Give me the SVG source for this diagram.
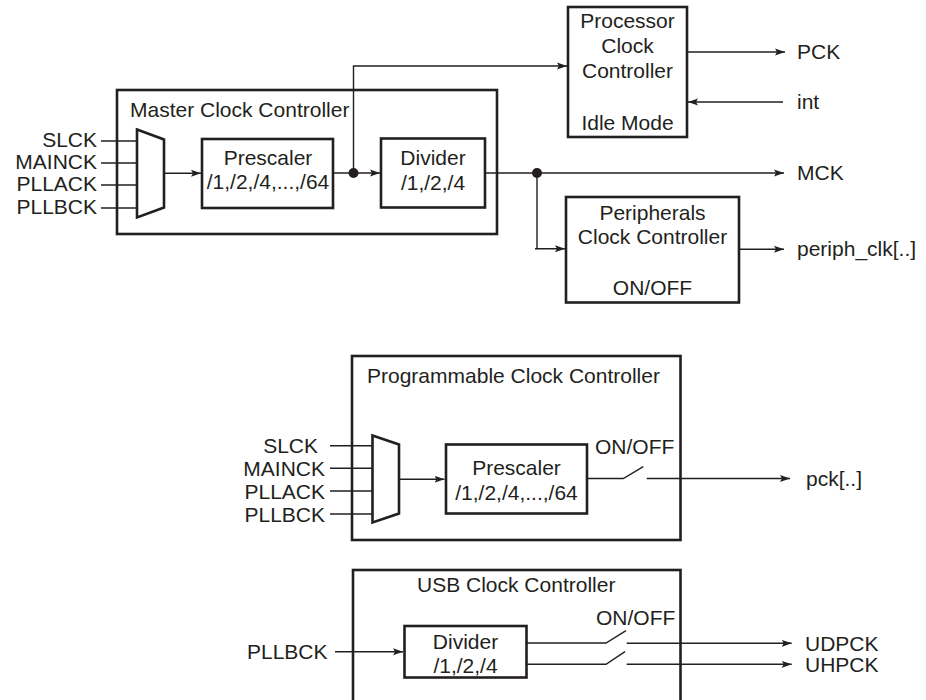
<svg xmlns="http://www.w3.org/2000/svg" width="926" height="700" viewBox="0 0 926 700">
<defs>
<marker id="arr" markerUnits="userSpaceOnUse" markerWidth="11" markerHeight="8" refX="10" refY="4" orient="auto">
<path d="M0,0.5 L10,4 L0,7.5 L2,4 Z" fill="#231f20"/>
</marker>
<style>
text{font-family:"Liberation Sans",Arial,sans-serif;font-size:21px;fill:#231f20}
.m{text-anchor:middle}
.e{text-anchor:end}
.box{fill:none;stroke:#231f20;stroke-width:2.6}
.w{fill:none;stroke:#231f20;stroke-width:1.4}
.a{marker-end:url(#arr)}
</style>
</defs>
<rect width="926" height="700" fill="#fff"/>

<g id="master">
<rect class="box" x="117" y="90" width="380" height="144"/>
<text x="130" y="117">Master Clock Controller</text>
</g>
<g id="mux1">
<path class="box" d="M137,129.5 L164,139.5 L164,207.5 L137,217.5 Z"/>
<text class="e" x="97" y="147">SLCK</text>
<text class="e" x="97" y="169">MAINCK</text>
<text class="e" x="97" y="191">PLLACK</text>
<text class="e" x="97" y="214">PLLBCK</text>
</g>
<g id="prescaler1">
<rect class="box" x="202" y="139" width="131" height="69"/>
<text class="m" x="268" y="165">Prescaler</text>
<text class="m" x="268" y="189">/1,/2,/4,...,/64</text>
</g>
<g id="divider1">
<rect class="box" x="381" y="138.5" width="104" height="69"/>
<text class="m" x="433" y="165">Divider</text>
<text class="m" x="433" y="190">/1,/2,/4</text>
</g>
<g id="processor">
<rect class="box" x="568" y="7" width="119" height="130"/>
<text class="m" x="627.5" y="28">Processor</text>
<text class="m" x="627.5" y="53">Clock</text>
<text class="m" x="627.5" y="78">Controller</text>
<text class="m" x="627.5" y="130">Idle Mode</text>
<text x="797" y="59">PCK</text>
<text x="797" y="109">int</text>
</g>
<g id="peripherals">
<rect class="box" x="566" y="197" width="173" height="105.5"/>
<text class="m" x="652.5" y="220">Peripherals</text>
<text class="m" x="652.5" y="243.5">Clock Controller</text>
<text class="m" x="652.5" y="295">ON/OFF</text>
<text x="797" y="180">MCK</text>
<text x="797" y="256">periph_clk[..]</text>
</g>

<g id="programmable">
<rect class="box" x="352" y="356" width="328.5" height="184"/>
<text x="367" y="383">Programmable Clock Controller</text>
<text x="595" y="454">ON/OFF</text>
<text x="806" y="486">pck[..]</text>
</g>
<g id="mux2">
<path class="box" d="M372.5,435.5 L399,444.5 L399,513.5 L372.5,522.5 Z"/>
<text class="e" x="318" y="453">SLCK</text>
<text class="e" x="325" y="476">MAINCK</text>
<text class="e" x="325" y="499">PLLACK</text>
<text class="e" x="325" y="522">PLLBCK</text>
</g>
<g id="prescaler2">
<rect class="box" x="446" y="444.5" width="141" height="69"/>
<text class="m" x="516.5" y="475">Prescaler</text>
<text class="m" x="516.5" y="500">/1,/2,/4,...,/64</text>
</g>

<g id="usb">
<rect class="box" x="353" y="570" width="327.5" height="150"/>
<text x="417" y="592">USB Clock Controller</text>
<text x="596" y="625">ON/OFF</text>
<text x="247" y="659">PLLBCK</text>
<text x="805" y="650.5">UDPCK</text>
<text x="805" y="671.5">UHPCK</text>
</g>
<g id="divider2">
<rect class="box" x="404.5" y="626" width="122" height="51.5"/>
<text class="m" x="465.5" y="648.5">Divider</text>
<text class="m" x="465.5" y="672.5">/1,/2,/4</text>
</g>

<g id="connectors">
<line class="w" x1="101" y1="141" x2="137" y2="141"/>
<line class="w" x1="101" y1="163" x2="137" y2="163"/>
<line class="w" x1="101" y1="185" x2="137" y2="185"/>
<line class="w" x1="101" y1="208" x2="137" y2="208"/>
<line class="w a" x1="164" y1="173.3" x2="201" y2="173.3"/>
<line class="w a" x1="333" y1="173" x2="380" y2="173"/>
<circle cx="353.5" cy="173" r="5" fill="#231f20"/>
<polyline class="w a" points="353.5,173 353.5,66 567,66"/>
<line class="w a" x1="688" y1="52" x2="785" y2="52"/>
<line class="w a" x1="783" y1="102" x2="688" y2="102"/>
<line class="w a" x1="485" y1="173" x2="784" y2="173"/>
<circle cx="537" cy="173" r="5" fill="#231f20"/>
<polyline class="w a" points="537,173 537,248.7 565,248.7"/>
<line class="w" x1="535" y1="248.7" x2="537" y2="248.7"/>
<line class="w a" x1="740" y1="249.3" x2="784" y2="249.3"/>

<line class="w" x1="330" y1="445.7" x2="372.5" y2="445.7"/>
<line class="w" x1="330" y1="468.3" x2="372.5" y2="468.3"/>
<line class="w" x1="330" y1="491" x2="372.5" y2="491"/>
<line class="w" x1="330" y1="514" x2="372.5" y2="514"/>
<line class="w a" x1="399" y1="479.3" x2="444.5" y2="479.3"/>
<polyline class="w" points="587,478.5 623.3,478.5 643.3,466.7"/>
<line class="w a" x1="646.7" y1="478.5" x2="790" y2="478.5"/>

<line class="w a" x1="335" y1="651.7" x2="403" y2="651.7"/>
<polyline class="w" points="526.5,643 606,643 626,630.7"/>
<line class="w a" x1="626.7" y1="643.3" x2="791.7" y2="643.3"/>
<polyline class="w" points="526.5,664.3 606,664.3 625,651.7"/>
<line class="w a" x1="626.7" y1="664.3" x2="791.7" y2="664.3"/>
</g>
</svg>
